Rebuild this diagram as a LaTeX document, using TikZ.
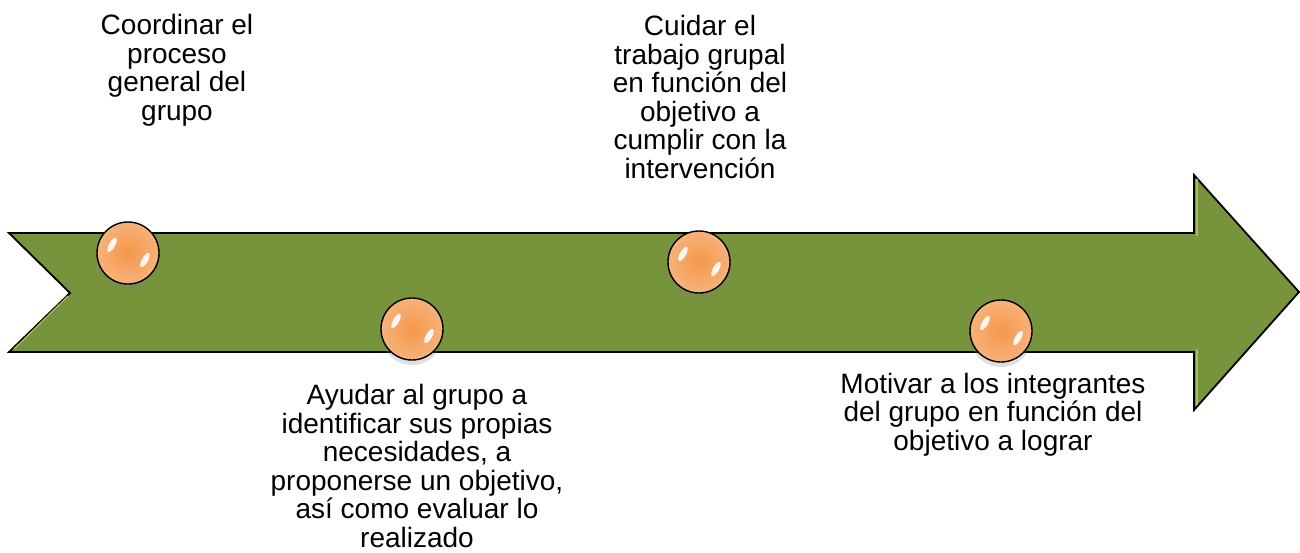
\documentclass[tikz,border=0pt]{standalone}
\usepackage{fontspec}
\setmainfont{Liberation Sans}
\usetikzlibrary{calc,shadows}
\definecolor{verde}{HTML}{77933C}
\definecolor{verdeclaro}{HTML}{A5C26A}
\definecolor{naranja}{HTML}{F4974A}
\definecolor{naranjaborde}{HTML}{F7B27A}
\tikzset{
	bola/.style={circle, draw=black, line width=1.4pt, minimum size=62pt, inner sep=0pt,
		inner color=naranja, outer color=naranjaborde,
		drop shadow={shadow xshift=0pt, shadow yshift=-5pt, opacity=0.25}},
	texto/.style={align=center, anchor=base, inner sep=0pt, font=\fontsize{28}{28.5}\selectfont}
}

\begin{document}
\begin{tikzpicture}[x=1pt, y=-1pt]
			%%%%% START %%%%%
			\useasboundingbox (0, 0) rectangle (1300, 552);
			
			\draw[fill=verde, line width=1.8pt, line join=miter] (9, 233) -- (1194, 233) -- (1194, 175) -- (1299, 292) -- (1194, 410) -- (1194, 352) -- (9, 352) -- (70, 293) -- cycle;
			\draw[verdeclaro, line width=1.2pt] (68, 296) -- (14, 349);
			\draw[verdeclaro, line width=1.2pt] (1197, 179) -- (1197, 236);
			\draw[verdeclaro, line width=1.2pt] (1197, 349) -- (1197, 405);
			
			\node[bola] (bola1) at (128, 253) {};
			\node[bola] (bola2) at (412, 329) {};
			\node[bola] (bola3) at (699, 262) {};
			\node[bola] (bola4) at (1001, 331) {};
			
			\foreach \b in {bola1, bola2, bola3, bola4}{
				\fill[white, opacity=0.9] ($(\b)+(-16, -8)$) ellipse [x radius=3, y radius=8, rotate=-30];
				\fill[white, opacity=0.9] ($(\b)+(17, 7)$) ellipse [x radius=3, y radius=8, rotate=-30];
			}
			
			% base = last line
			\node[texto] (txt1) at (177, 120) {Coordinar el\\proceso\\general del\\grupo};
			\node[texto] (txt2) at (417, 547) {Ayudar al grupo a\\identificar sus propias\\necesidades, a\\proponerse un objetivo,\\así como evaluar lo\\realizado};
			\node[texto] (txt3) at (700, 178) {Cuidar el\\trabajo grupal\\en función del\\objetivo a\\cumplir con la\\intervención};
			\node[texto] (txt4) at (993, 450) {Motivar a los integrantes\\del grupo en función del\\objetivo a lograr};
			%%%%% END %%%%%
\end{tikzpicture}
\end{document}
